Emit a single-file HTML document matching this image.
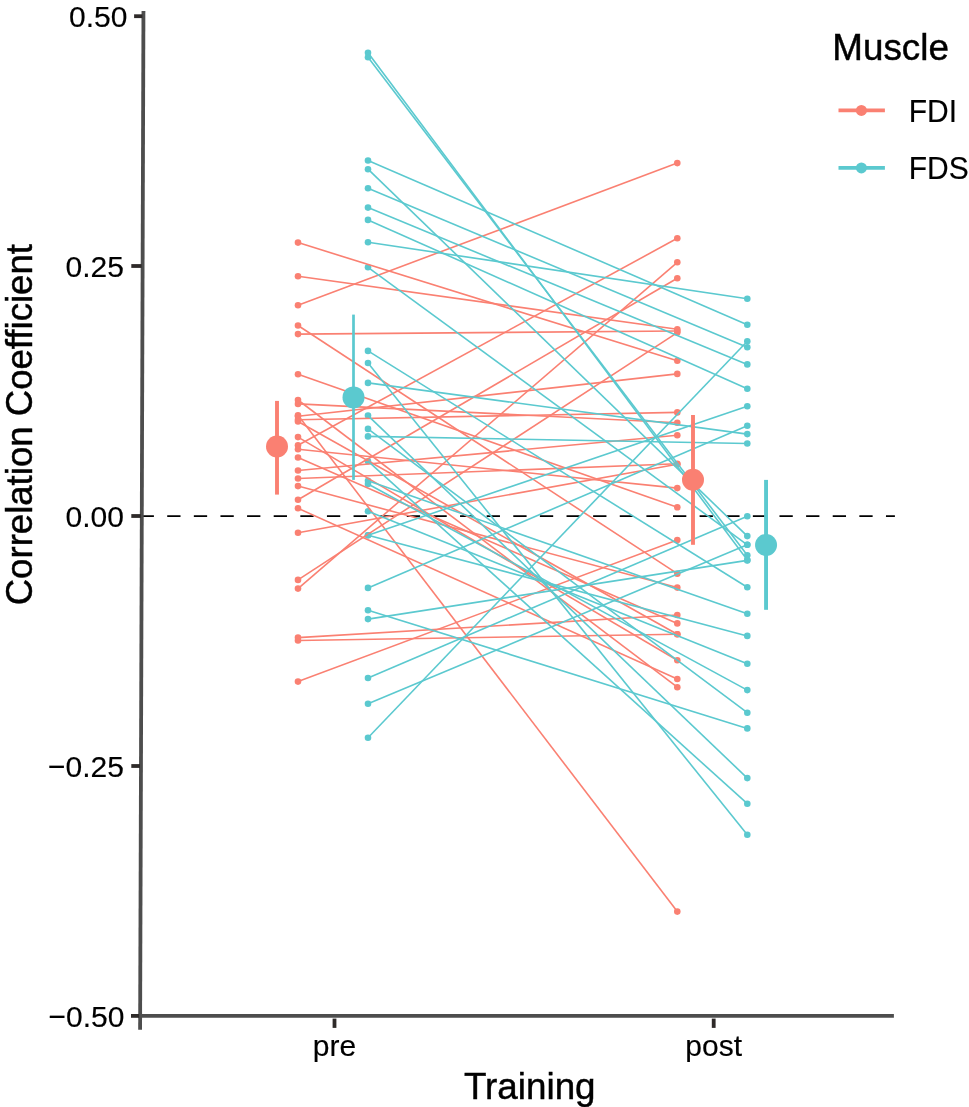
<!DOCTYPE html>
<html><head><meta charset="utf-8"><title>Correlation Coefficient by Training</title>
<style>
html,body{margin:0;padding:0;background:#fff;overflow:hidden;}
body{width:969px;height:1107px;overflow:hidden;}
svg{display:block;will-change:transform;}
text{font-family:"Liberation Sans",sans-serif;fill:#000;}
.t{font-size:30px;stroke:#000;stroke-width:0.15px;}
.T{font-size:36.8px;stroke:#000;stroke-width:0.45px;}
</style></head><body>
<svg width="969" height="1107" viewBox="0 0 969 1107">
<rect width="969" height="1107" fill="#fff"/>
<line x1="140.6" y1="516.1" x2="894.9" y2="516.1" stroke="#000" stroke-width="1.9" stroke-dasharray="13.3 13.32"/>
<g fill="#FA8072">
<circle cx="298.0" cy="242.6" r="3.30"/><circle cx="677.3" cy="360.8" r="3.30"/>
<circle cx="298.0" cy="276.3" r="3.30"/><circle cx="677.3" cy="329.2" r="3.30"/>
<circle cx="298.0" cy="305.2" r="3.30"/><circle cx="677.3" cy="163.1" r="3.30"/>
<circle cx="298.0" cy="325.5" r="3.30"/><circle cx="677.3" cy="573.7" r="3.30"/>
<circle cx="298.0" cy="334.1" r="3.30"/><circle cx="677.3" cy="331.0" r="3.30"/>
<circle cx="298.0" cy="374.2" r="3.30"/><circle cx="677.3" cy="507.3" r="3.30"/>
<circle cx="298.0" cy="400.0" r="3.30"/><circle cx="677.3" cy="687.2" r="3.30"/>
<circle cx="298.0" cy="403.9" r="3.30"/><circle cx="677.3" cy="422.7" r="3.30"/>
<circle cx="298.0" cy="416.3" r="3.30"/><circle cx="677.3" cy="373.9" r="3.30"/>
<circle cx="298.0" cy="419.8" r="3.30"/><circle cx="677.3" cy="412.4" r="3.30"/>
<circle cx="298.0" cy="421.5" r="3.30"/><circle cx="677.3" cy="634.2" r="3.30"/>
<circle cx="298.0" cy="415.2" r="3.30"/><circle cx="677.3" cy="911.6" r="3.30"/>
<circle cx="298.0" cy="437.1" r="3.30"/><circle cx="677.3" cy="660.2" r="3.30"/>
<circle cx="298.0" cy="445.3" r="3.30"/><circle cx="677.3" cy="238.3" r="3.30"/>
<circle cx="298.0" cy="449.2" r="3.30"/><circle cx="677.3" cy="488.1" r="3.30"/>
<circle cx="298.0" cy="457.5" r="3.30"/><circle cx="677.3" cy="623.4" r="3.30"/>
<circle cx="298.0" cy="470.5" r="3.30"/><circle cx="677.3" cy="435.3" r="3.30"/>
<circle cx="298.0" cy="478.5" r="3.30"/><circle cx="677.3" cy="463.8" r="3.30"/>
<circle cx="298.0" cy="486.1" r="3.30"/><circle cx="677.3" cy="587.6" r="3.30"/>
<circle cx="298.0" cy="499.8" r="3.30"/><circle cx="677.3" cy="278.3" r="3.30"/>
<circle cx="298.0" cy="508.3" r="3.30"/><circle cx="677.3" cy="679.0" r="3.30"/>
<circle cx="298.0" cy="532.8" r="3.30"/><circle cx="677.3" cy="464.2" r="3.30"/>
<circle cx="298.0" cy="579.9" r="3.30"/><circle cx="677.3" cy="332.6" r="3.30"/>
<circle cx="298.0" cy="588.6" r="3.30"/><circle cx="677.3" cy="262.3" r="3.30"/>
<circle cx="298.0" cy="637.6" r="3.30"/><circle cx="677.3" cy="615.0" r="3.30"/>
<circle cx="298.0" cy="640.5" r="3.30"/><circle cx="677.3" cy="634.2" r="3.30"/>
<circle cx="298.0" cy="681.6" r="3.30"/><circle cx="677.3" cy="540.1" r="3.30"/>
</g><g fill="#5BC9CF">
<circle cx="368.0" cy="52.8" r="3.30"/><circle cx="747.3" cy="560.1" r="3.30"/>
<circle cx="368.0" cy="57.2" r="3.30"/><circle cx="747.3" cy="555.2" r="3.30"/>
<circle cx="368.0" cy="160.5" r="3.30"/><circle cx="747.3" cy="324.7" r="3.30"/>
<circle cx="368.0" cy="169.2" r="3.30"/><circle cx="747.3" cy="536.1" r="3.30"/>
<circle cx="368.0" cy="188.3" r="3.30"/><circle cx="747.3" cy="347.2" r="3.30"/>
<circle cx="368.0" cy="207.6" r="3.30"/><circle cx="747.3" cy="364.4" r="3.30"/>
<circle cx="368.0" cy="219.9" r="3.30"/><circle cx="747.3" cy="388.7" r="3.30"/>
<circle cx="368.0" cy="242.3" r="3.30"/><circle cx="747.3" cy="298.7" r="3.30"/>
<circle cx="368.0" cy="267.3" r="3.30"/><circle cx="747.3" cy="544.8" r="3.30"/>
<circle cx="368.0" cy="350.9" r="3.30"/><circle cx="747.3" cy="587.3" r="3.30"/>
<circle cx="368.0" cy="363.0" r="3.30"/><circle cx="747.3" cy="834.8" r="3.30"/>
<circle cx="368.0" cy="382.9" r="3.30"/><circle cx="747.3" cy="434.1" r="3.30"/>
<circle cx="368.0" cy="415.6" r="3.30"/><circle cx="747.3" cy="778.1" r="3.30"/>
<circle cx="368.0" cy="428.9" r="3.30"/><circle cx="747.3" cy="712.7" r="3.30"/>
<circle cx="368.0" cy="436.4" r="3.30"/><circle cx="747.3" cy="443.5" r="3.30"/>
<circle cx="368.0" cy="461.2" r="3.30"/><circle cx="747.3" cy="803.7" r="3.30"/>
<circle cx="368.0" cy="480.7" r="3.30"/><circle cx="747.3" cy="613.7" r="3.30"/>
<circle cx="368.0" cy="484.0" r="3.30"/><circle cx="747.3" cy="690.1" r="3.30"/>
<circle cx="368.0" cy="511.2" r="3.30"/><circle cx="747.3" cy="663.8" r="3.30"/>
<circle cx="368.0" cy="535.2" r="3.30"/><circle cx="747.3" cy="406.3" r="3.30"/>
<circle cx="368.0" cy="535.2" r="3.30"/><circle cx="747.3" cy="635.9" r="3.30"/>
<circle cx="368.0" cy="587.9" r="3.30"/><circle cx="747.3" cy="425.8" r="3.30"/>
<circle cx="368.0" cy="610.2" r="3.30"/><circle cx="747.3" cy="728.4" r="3.30"/>
<circle cx="368.0" cy="619.1" r="3.30"/><circle cx="747.3" cy="560.4" r="3.30"/>
<circle cx="368.0" cy="678.0" r="3.30"/><circle cx="747.3" cy="516.2" r="3.30"/>
<circle cx="368.0" cy="703.8" r="3.30"/><circle cx="747.3" cy="544.8" r="3.30"/>
<circle cx="368.0" cy="737.7" r="3.30"/><circle cx="747.3" cy="341.3" r="3.30"/>
</g>
<g stroke="#FA8072" stroke-width="1.60" stroke-linecap="butt">
<line x1="298.0" y1="242.6" x2="677.3" y2="360.8"/>
<line x1="298.0" y1="276.3" x2="677.3" y2="329.2"/>
<line x1="298.0" y1="305.2" x2="677.3" y2="163.1"/>
<line x1="298.0" y1="325.5" x2="677.3" y2="573.7"/>
<line x1="298.0" y1="334.1" x2="677.3" y2="331.0"/>
<line x1="298.0" y1="374.2" x2="677.3" y2="507.3"/>
<line x1="298.0" y1="400.0" x2="677.3" y2="687.2"/>
<line x1="298.0" y1="403.9" x2="677.3" y2="422.7"/>
<line x1="298.0" y1="416.3" x2="677.3" y2="373.9"/>
<line x1="298.0" y1="419.8" x2="677.3" y2="412.4"/>
<line x1="298.0" y1="421.5" x2="677.3" y2="634.2"/>
<line x1="298.0" y1="415.2" x2="677.3" y2="911.6"/>
<line x1="298.0" y1="437.1" x2="677.3" y2="660.2"/>
<line x1="298.0" y1="445.3" x2="677.3" y2="238.3"/>
<line x1="298.0" y1="449.2" x2="677.3" y2="488.1"/>
<line x1="298.0" y1="457.5" x2="677.3" y2="623.4"/>
<line x1="298.0" y1="470.5" x2="677.3" y2="435.3"/>
<line x1="298.0" y1="478.5" x2="677.3" y2="463.8"/>
<line x1="298.0" y1="486.1" x2="677.3" y2="587.6"/>
<line x1="298.0" y1="499.8" x2="677.3" y2="278.3"/>
<line x1="298.0" y1="508.3" x2="677.3" y2="679.0"/>
<line x1="298.0" y1="532.8" x2="677.3" y2="464.2"/>
<line x1="298.0" y1="579.9" x2="677.3" y2="332.6"/>
<line x1="298.0" y1="588.6" x2="677.3" y2="262.3"/>
<line x1="298.0" y1="637.6" x2="677.3" y2="615.0"/>
<line x1="298.0" y1="640.5" x2="677.3" y2="634.2"/>
<line x1="298.0" y1="681.6" x2="677.3" y2="540.1"/>
</g><g stroke="#5BC9CF" stroke-width="1.60" stroke-linecap="butt">
<line x1="368.0" y1="52.8" x2="747.3" y2="560.1"/>
<line x1="368.0" y1="57.2" x2="747.3" y2="555.2"/>
<line x1="368.0" y1="160.5" x2="747.3" y2="324.7"/>
<line x1="368.0" y1="169.2" x2="747.3" y2="536.1"/>
<line x1="368.0" y1="188.3" x2="747.3" y2="347.2"/>
<line x1="368.0" y1="207.6" x2="747.3" y2="364.4"/>
<line x1="368.0" y1="219.9" x2="747.3" y2="388.7"/>
<line x1="368.0" y1="242.3" x2="747.3" y2="298.7"/>
<line x1="368.0" y1="267.3" x2="747.3" y2="544.8"/>
<line x1="368.0" y1="350.9" x2="747.3" y2="587.3"/>
<line x1="368.0" y1="363.0" x2="747.3" y2="834.8"/>
<line x1="368.0" y1="382.9" x2="747.3" y2="434.1"/>
<line x1="368.0" y1="415.6" x2="747.3" y2="778.1"/>
<line x1="368.0" y1="428.9" x2="747.3" y2="712.7"/>
<line x1="368.0" y1="436.4" x2="747.3" y2="443.5"/>
<line x1="368.0" y1="461.2" x2="747.3" y2="803.7"/>
<line x1="368.0" y1="480.7" x2="747.3" y2="613.7"/>
<line x1="368.0" y1="484.0" x2="747.3" y2="690.1"/>
<line x1="368.0" y1="511.2" x2="747.3" y2="663.8"/>
<line x1="368.0" y1="535.2" x2="747.3" y2="406.3"/>
<line x1="368.0" y1="535.2" x2="747.3" y2="635.9"/>
<line x1="368.0" y1="587.9" x2="747.3" y2="425.8"/>
<line x1="368.0" y1="610.2" x2="747.3" y2="728.4"/>
<line x1="368.0" y1="619.1" x2="747.3" y2="560.4"/>
<line x1="368.0" y1="678.0" x2="747.3" y2="516.2"/>
<line x1="368.0" y1="703.8" x2="747.3" y2="544.8"/>
<line x1="368.0" y1="737.7" x2="747.3" y2="341.3"/>
</g>
<rect x="275.05" y="400.9" width="3.90" height="93.7" fill="#FA8072"/><circle cx="277.00" cy="446.55" r="11.00" fill="#FA8072"/>
<rect x="352.15" y="314.6" width="2.70" height="165.3" fill="#5BC9CF"/><circle cx="353.50" cy="397.40" r="11.00" fill="#5BC9CF"/>
<rect x="691.05" y="415.0" width="3.90" height="129.8" fill="#FA8072"/><circle cx="693.00" cy="479.70" r="11.00" fill="#FA8072"/>
<rect x="764.10" y="479.9" width="3.90" height="129.9" fill="#5BC9CF"/><circle cx="766.05" cy="544.95" r="11.00" fill="#5BC9CF"/>
<line x1="143.45" y1="11.1" x2="140.1" y2="1029.8" stroke="#4D4D4D" stroke-width="3.8"/>
<line x1="138.3" y1="1015.9" x2="893.9" y2="1015.9" stroke="#4D4D4D" stroke-width="3.9"/>
<line x1="134.1" y1="16.2" x2="142.4" y2="16.2" stroke="#2E2A29" stroke-width="3.8"/>
<text class="t" transform="translate(127.4,27.0) scale(1,1.01)" text-anchor="end">0.50</text>
<line x1="131.3" y1="266.0" x2="141.6" y2="266.0" stroke="#2E2A29" stroke-width="3.8"/>
<text class="t" transform="translate(123.9,276.8) scale(1,1.01)" text-anchor="end">0.25</text>
<line x1="131.3" y1="516.0" x2="140.8" y2="516.0" stroke="#2E2A29" stroke-width="3.8"/>
<text class="t" transform="translate(123.9,526.8) scale(1,1.01)" text-anchor="end">0.00</text>
<line x1="131.3" y1="766.0" x2="140.0" y2="766.0" stroke="#2E2A29" stroke-width="3.8"/>
<text class="t" transform="translate(123.9,776.8) scale(1,1.01)" text-anchor="end">−0.25</text>
<line x1="131.0" y1="1015.9" x2="139.1" y2="1015.9" stroke="#2E2A29" stroke-width="3.8"/>
<text class="t" transform="translate(124.4,1026.7) scale(1,1.01)" text-anchor="end">−0.50</text>
<line x1="334.5" y1="1018.6" x2="334.5" y2="1027.9" stroke="#2E2A29" stroke-width="3.8"/>
<text class="t" x="334.5" y="1056.1" text-anchor="middle">pre</text>
<line x1="713.7" y1="1018.6" x2="713.7" y2="1027.9" stroke="#2E2A29" stroke-width="3.8"/>
<text class="t" x="713.7" y="1056.1" text-anchor="middle">post</text>
<text class="T" x="529.8" y="1099.3" text-anchor="middle">Training</text>
<text class="T" style="font-size:36.6px" transform="translate(32.2,424.7) rotate(-90)" text-anchor="middle">Correlation Coefficient</text>
<text class="T" x="832.3" y="60.3">Muscle</text>
<line x1="838.5" y1="110.4" x2="884.9" y2="110.4" stroke="#FA8072" stroke-width="3.7"/><circle cx="861.4" cy="110.4" r="5.5" fill="#FA8072"/>
<text class="t" transform="translate(908.7,121.6) scale(1,1.07)">FDI</text>
<line x1="838.5" y1="167.9" x2="884.9" y2="167.9" stroke="#5BC9CF" stroke-width="3.7"/><circle cx="861.4" cy="167.9" r="5.5" fill="#5BC9CF"/>
<text class="t" transform="translate(908.7,179.1) scale(1,1.07)">FDS</text>
</svg></body></html>
